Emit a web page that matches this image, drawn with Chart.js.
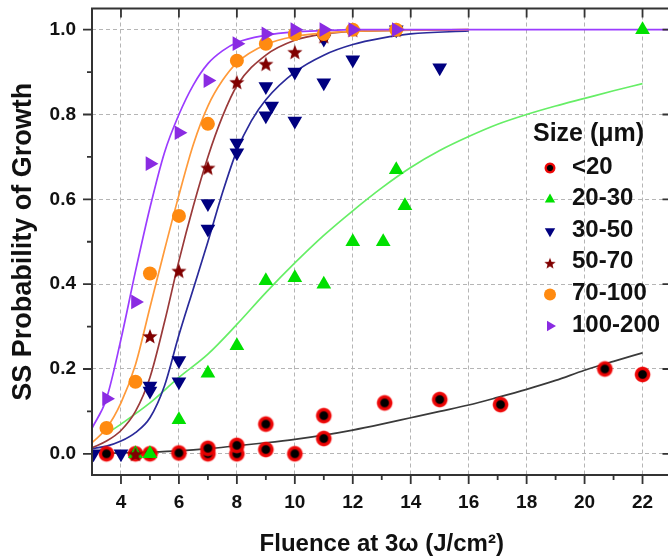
<!DOCTYPE html>
<html>
<head>
<meta charset="utf-8">
<title>SS Probability of Growth</title>
<script src="https://cdn.jsdelivr.net/npm/chart.js@4.4.0/dist/chart.umd.min.js"></script>
<style>
  html, body { margin: 0; padding: 0; background: #fff; overflow: hidden; }
  #wrap { width: 680px; height: 560px; }
</style>
</head>
<body>
<div id="wrap"><canvas id="chart" width="680" height="560"></canvas></div>
<script>
// axis ticks
const xTicks = [4, 6, 8, 10, 12, 14, 16, 18, 20, 22];
const xMinorTicks = [5, 7, 9, 11, 13, 15, 17, 19, 21];
const yTicks = [0, 0.2, 0.4, 0.6, 0.8, 1.0];
const yMinorTicks = [0.1, 0.3, 0.5, 0.7, 0.9];

const sizeLabels = ['<20', '20-30', '30-50', '50-70', '70-100', '100-200'];

// measured points, one pair of arrays per particle size
const lt20X = [3.5, 4.5, 5, 6, 7, 7, 8, 8, 9, 9, 10, 11, 11, 13.1, 15, 17.1, 20.7, 22];
const lt20Y = [0, 0, 0, 0.002, 0, 0.013, 0, 0.02, 0.01, 0.07, 0, 0.036, 0.09, 0.12, 0.128, 0.116, 0.2, 0.187];

const s20X = [4.5, 5, 6, 7, 8, 9, 10, 11, 12, 13.05, 13.5, 13.8, 22];
const s20Y = [0, 0, 0.08, 0.19, 0.255, 0.408, 0.415, 0.40, 0.50, 0.50, 0.67, 0.585, 1.0];

const s30X = [3.05, 4, 5, 5, 6, 6, 7, 7, 8, 8, 9, 9.2, 9, 10, 10, 11, 11, 12, 13.5, 15];
const s30Y = [0, 0, 0.16, 0.148, 0.22, 0.17, 0.59, 0.53, 0.733, 0.71, 0.866, 0.82, 0.797, 0.90, 0.785, 0.978, 0.875, 0.929, 1.0, 0.91];

const s50X = [4.5, 5, 6, 7, 8, 9, 10, 11, 12, 13.5];
const s50Y = [0, 0.278, 0.432, 0.675, 0.877, 0.92, 0.948, 0.985, 1.0, 1.0];

const s70X = [3.5, 4.5, 5, 6, 7, 8, 9, 10, 11, 12, 13.5];
const s70Y = [0.061, 0.17, 0.425, 0.561, 0.778, 0.927, 0.967, 0.99, 0.99, 1.0, 1.0];

const s100X = [3.5, 4.5, 5, 6, 7, 8, 9, 10, 11, 12, 13.5];
const s100Y = [0.13, 0.358, 0.684, 0.757, 0.88, 0.967, 0.99, 1.0, 1.0, 1.0, 1.0];

// fitted curves
const fitLt20X = [3.5, 4, 5, 6, 7, 8, 9, 10, 11, 12, 13, 14, 15, 16, 17, 18, 19, 20, 21, 22];
const fitLt20Y = [0.001, 0.002, 0.004, 0.007, 0.012, 0.019, 0.026, 0.034, 0.044, 0.056, 0.07, 0.085, 0.1, 0.115, 0.133, 0.152, 0.173, 0.197, 0.218, 0.238];

const fit20X = [3.5, 4, 5, 6, 7, 8, 9, 10, 11, 12, 13, 14, 15, 16, 17, 18, 19, 20, 21, 22];
const fit20Y = [0.047, 0.07, 0.12, 0.18, 0.235, 0.305, 0.38, 0.45, 0.515, 0.573, 0.627, 0.675, 0.715, 0.748, 0.777, 0.80, 0.82, 0.838, 0.856, 0.873];

const fit30X = [3, 3.5, 4, 4.5, 5, 5.5, 6, 6.5, 7, 7.5, 8, 8.5, 9, 10, 11, 12, 13, 14, 16];
const fit30Y = [0.012, 0.018, 0.03, 0.05, 0.085, 0.16, 0.28, 0.39, 0.50, 0.615, 0.715, 0.785, 0.835, 0.90, 0.94, 0.965, 0.98, 0.99, 0.997];

const fit50X = [3, 3.5, 4, 4.5, 5, 5.5, 6, 6.5, 7, 7.5, 8, 9, 10, 11, 12, 14, 16];
const fit50Y = [0.014, 0.03, 0.055, 0.1, 0.18, 0.31, 0.455, 0.585, 0.70, 0.795, 0.868, 0.94, 0.975, 0.99, 0.996, 0.999, 1.0];

const fit70X = [3, 3.5, 4, 4.5, 5, 5.5, 6, 6.5, 7, 7.5, 8, 9, 10, 11, 12, 14, 16];
const fit70Y = [0.026, 0.06, 0.12, 0.21, 0.345, 0.48, 0.61, 0.73, 0.82, 0.88, 0.922, 0.965, 0.984, 0.992, 0.996, 0.999, 1.0];

const fit100X = [3, 3.5, 4, 4.5, 5, 5.5, 6, 6.5, 7, 7.5, 8, 9, 10, 11, 12, 14, 23];
const fit100Y = [0.06, 0.13, 0.27, 0.43, 0.58, 0.71, 0.80, 0.87, 0.92, 0.95, 0.97, 0.987, 0.995, 0.998, 1.0, 1.0, 1.0];

const FONT = 'Liberation Sans, Arial, sans-serif';

function pairs(xs, ys) {
    return xs.map((x, i) => ({ x: x, y: ys[i] }));
}

// filled five point star
function starCanvas(r, color) {
    const s = Math.ceil(r * 2 + 2);
    const c = document.createElement('canvas');
    c.width = c.height = s;
    const g = c.getContext('2d');
    g.fillStyle = color;
    g.beginPath();
    for (let i = 0; i < 10; i++) {
        const rad = i % 2 ? r * 0.43 : r;
        const a = -Math.PI / 2 + i * Math.PI / 5;
        g.lineTo(s / 2 + rad * Math.cos(a), s / 2 + 1 + rad * Math.sin(a));
    }
    g.closePath();
    g.fill();
    return c;
}

// black dot with a soft red rim
function dotCanvas(r) {
    const s = Math.ceil(r * 2 + 2);
    const c = document.createElement('canvas');
    c.width = c.height = s;
    const g = c.getContext('2d');
    const grad = g.createRadialGradient(s / 2, s / 2, 0, s / 2, s / 2, r);
    grad.addColorStop(0, '#000');
    grad.addColorStop(0.44, '#000');
    grad.addColorStop(0.58, '#e00000');
    grad.addColorStop(0.84, 'rgba(240,0,0,0.95)');
    grad.addColorStop(1, 'rgba(255,40,40,0)');
    g.fillStyle = grad;
    g.beginPath();
    g.arc(s / 2, s / 2, r, 0, Math.PI * 2);
    g.fill();
    return c;
}

const colors = {
    lt20: '#e00000',
    s20: '#00e000',
    s30: '#000080',
    s50: '#800000',
    s70: '#ff8a10',
    s100: '#8a2be2'
};

const markers = [
    { style: dotCanvas(8.5), legend: dotCanvas(6), rotation: 0, radius: 8, color: colors.lt20 },
    { style: 'triangle', rotation: 0, radius: 8.5, color: colors.s20 },
    { style: 'triangle', rotation: 180, radius: 8.5, color: colors.s30 },
    { style: starCanvas(8, colors.s50), legend: starCanvas(6, colors.s50), rotation: 0, radius: 8, color: colors.s50 },
    { style: 'circle', rotation: 0, radius: 7, color: colors.s70 },
    { style: 'triangle', rotation: 90, radius: 8.5, color: colors.s100 }
];

const pointSets = [
    pairs(lt20X, lt20Y), pairs(s20X, s20Y), pairs(s30X, s30Y),
    pairs(s50X, s50Y), pairs(s70X, s70Y), pairs(s100X, s100Y)
];

const fitSets = [
    { data: pairs(fitLt20X, fitLt20Y), color: '#3a3a3a' },
    { data: pairs(fit20X, fit20Y), color: '#66ee66' },
    { data: pairs(fit30X, fit30Y), color: '#2a2a9a' },
    { data: pairs(fit50X, fit50Y), color: '#9a3a3a' },
    { data: pairs(fit70X, fit70Y), color: '#ff9a3a' },
    { data: pairs(fit100X, fit100Y), color: '#9b3cff' }
];

const datasets = [];
pointSets.forEach((pts, i) => {
    const m = markers[i];
    datasets.push({
        label: sizeLabels[i],
        data: pts,
        showLine: false,
        pointStyle: m.style,
        rotation: m.rotation,
        pointRadius: m.radius,
        pointHoverRadius: m.radius,
        pointBackgroundColor: m.color,
        pointBorderColor: m.color,
        pointBorderWidth: 0,
        order: 10 - i
    });
});
fitSets.forEach((f, i) => {
    datasets.push({
        label: sizeLabels[i] + ' fit',
        data: f.data,
        showLine: true,
        pointRadius: 0,
        borderColor: f.color,
        borderWidth: 1.7,
        cubicInterpolationMode: 'monotone',
        fill: false,
        order: 30 - i
    });
});

// box frame, tick marks and the size legend
const framePlugin = {
    id: 'frame',
    afterDraw(chart) {
        const { ctx, chartArea: a, scales: { x, y } } = chart;
        ctx.save();
        ctx.strokeStyle = '#333';
        ctx.lineWidth = 2;
        ctx.strokeRect(a.left, a.top, a.right - a.left, a.bottom - a.top);

        ctx.lineWidth = 1.8;
        ctx.beginPath();
        xTicks.forEach(v => {
            const p = x.getPixelForValue(v);
            ctx.moveTo(p, a.bottom); ctx.lineTo(p, a.bottom + 9);
            ctx.moveTo(p, a.top); ctx.lineTo(p, a.top + 9);
        });
        xMinorTicks.forEach(v => {
            const p = x.getPixelForValue(v);
            ctx.moveTo(p, a.bottom); ctx.lineTo(p, a.bottom + 5);
        });
        yTicks.forEach(v => {
            const p = y.getPixelForValue(v);
            ctx.moveTo(a.left - 9, p); ctx.lineTo(a.left, p);
            ctx.moveTo(a.right - 9, p); ctx.lineTo(a.right, p);
        });
        yMinorTicks.forEach(v => {
            const p = y.getPixelForValue(v);
            ctx.moveTo(a.left - 5, p); ctx.lineTo(a.left, p);
        });
        ctx.stroke();

        // legend
        ctx.fillStyle = '#111';
        ctx.textBaseline = 'middle';
        ctx.textAlign = 'left';
        ctx.font = 'bold 25px ' + FONT;
        ctx.fillText('Size (\u03bcm)', 533, 134);
        ctx.font = 'bold 24px ' + FONT;
        sizeLabels.forEach((label, i) => {
            const ly = 167 + i * 31.6;
            const m = markers[i];
            if (m.legend) {
                ctx.drawImage(m.legend, 550 - m.legend.width / 2, ly - m.legend.height / 2 + 1);
            } else {
                ctx.fillStyle = m.color;
                ctx.strokeStyle = m.color;
                Chart.helpers.drawPoint(ctx, { pointStyle: m.style, rotation: m.rotation, radius: 6, borderWidth: 0 }, 550, ly + 1);
            }
            ctx.fillStyle = '#111';
            ctx.fillText(label, 572, ly);
        });
        ctx.restore();
    }
};

const tickFont = { family: FONT, size: 19, weight: 'bold' };

new Chart('chart', {
    type: 'scatter',
    data: { datasets: datasets },
    options: {
        responsive: false,
        animation: false,
        layout: { padding: { top: 8, right: 0, left: 0, bottom: 0 } },
        plugins: {
            legend: { display: false },
            tooltip: { enabled: false }
        },
        scales: {
            x: {
                type: 'linear',
                min: 3,
                max: 23,
                afterBuildTicks: s => { s.ticks = xTicks.map(v => ({ value: v })); },
                afterFit: s => {
                    s.height = 85;
                    s.paddingLeft = 0;
                    s.paddingRight = 0;
                },
                grid: { color: '#b5b5b5', lineWidth: 1, drawTicks: false },
                border: { display: false, dash: [4, 3] },
                ticks: { padding: 16, color: '#111', font: tickFont },
                title: {
                    display: true,
                    text: 'Fluence at 3\u03c9 (J/cm\u00b2)',
                    color: '#111',
                    font: { family: FONT, size: 24, weight: 'bold' },
                    padding: { top: 0, bottom: 1 }
                }
            },
            y: {
                type: 'linear',
                min: -0.05,
                max: 1.05,
                afterBuildTicks: s => { s.ticks = yTicks.map(v => ({ value: v })); },
                afterFit: s => {
                    s.width = 92;
                    s.paddingTop = 0;
                    s.paddingBottom = 0;
                },
                grid: { color: '#b5b5b5', lineWidth: 1, drawTicks: false },
                border: { display: false, dash: [4, 3] },
                ticks: {
                    padding: 16,
                    color: '#111',
                    font: tickFont,
                    callback: v => v.toFixed(1)
                },
                title: {
                    display: true,
                    text: 'SS Probability of Growth',
                    color: '#111',
                    font: { family: FONT, size: 27, weight: 'bold' },
                    padding: { top: 7, bottom: 0 }
                }
            }
        }
    },
    plugins: [framePlugin]
});
</script>
</body>
</html>
